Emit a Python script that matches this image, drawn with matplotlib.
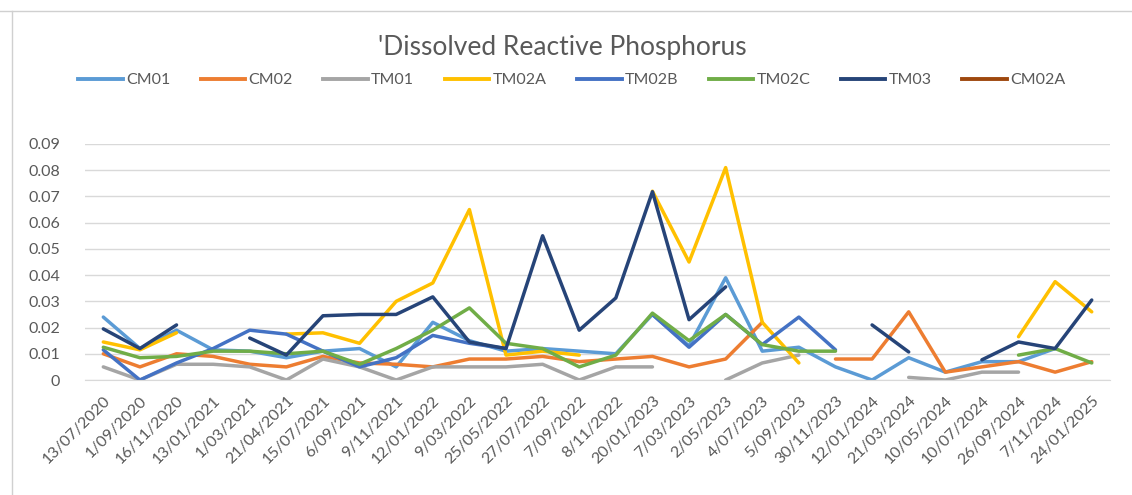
import numpy as np
import matplotlib
matplotlib.use("Agg")
import matplotlib.pyplot as plt
from matplotlib.lines import Line2D

plt.rcParams['font.family'] = ['Lato', 'DejaVu Sans']

nan = np.nan
dates = ["13/07/2020", "1/09/2020", "16/11/2020", "13/01/2021", "1/03/2021", "21/04/2021",
         "15/07/2021", "6/09/2021", "9/11/2021", "12/01/2022", "9/03/2022", "25/05/2022",
         "27/07/2022", "7/09/2022", "8/11/2022", "20/01/2023", "7/03/2023", "2/05/2023",
         "4/07/2023", "5/09/2023", "30/11/2023", "12/01/2024", "21/03/2024", "10/05/2024",
         "10/07/2024", "26/09/2024", "7/11/2024", "24/01/2025"]

cm01 = [0.024, 0.012, 0.019, 0.0115, 0.011, 0.0085, 0.011, 0.012, 0.005, 0.022, 0.015, 0.011,
        0.012, 0.011, 0.010, 0.025, 0.013, 0.039, 0.011, 0.0125, 0.005, 0.0, 0.0085, 0.003,
        0.007, 0.007, 0.012, nan]
cm02 = [0.010, 0.005, 0.010, 0.009, 0.006, 0.005, 0.009, 0.0065, 0.006, 0.005, 0.008, 0.008,
        0.009, 0.007, 0.008, 0.009, 0.005, 0.008, 0.022, nan, 0.008, 0.008, 0.026, 0.003,
        0.005, 0.007, 0.003, 0.007]
tm01 = [0.005, 0.0, 0.006, 0.006, 0.005, 0.0, 0.008, 0.005, 0.0, 0.005, 0.005, 0.005,
        0.006, 0.0, 0.005, 0.005, nan, 0.0, 0.0065, 0.0095, nan, nan, 0.001, 0.0,
        0.003, 0.003, nan, nan]
tm02a = [0.0145, 0.0115, 0.018, nan, nan, 0.0175, 0.018, 0.014, 0.030, 0.037, 0.065, 0.0095,
         0.011, 0.0095, nan, 0.072, 0.045, 0.081, 0.022, 0.0065, nan, nan, nan, nan,
         nan, 0.0165, 0.0375, 0.026]
tm02b = [0.0115, 0.0, 0.0065, 0.012, 0.019, 0.0175, 0.011, 0.005, 0.0085, 0.017, 0.014, 0.012,
         nan, nan, nan, 0.025, 0.0125, 0.025, 0.0135, 0.024, 0.0115, nan, nan, nan,
         nan, nan, nan, nan]
tm02c = [0.0125, 0.0085, 0.009, 0.011, 0.011, 0.010, 0.011, 0.006, 0.012, 0.019, 0.0275, 0.014,
         0.012, 0.005, 0.0095, 0.0255, 0.015, 0.025, 0.0135, 0.011, 0.011, nan, nan, nan,
         nan, 0.0095, 0.012, 0.0065]
tm03 = [0.0195, 0.012, 0.021, nan, 0.016, 0.0095, 0.0245, 0.025, 0.025, 0.0317, 0.0145, 0.012,
        0.055, 0.019, 0.0313, 0.0718, 0.023, 0.0355, nan, nan, nan, 0.021, 0.0107, nan,
        0.0077, 0.0145, 0.012, 0.0305]
cm02a = [nan] * len(dates)

names = ["CM01", "CM02", "TM01", "TM02A", "TM02B", "TM02C", "TM03", "CM02A"]
series = [cm01, cm02, tm01, tm02a, tm02b, tm02c, tm03, cm02a]
colors = ["#5B9BD5", "#ED7D31", "#A5A5A5", "#FFC000", "#4472C4", "#70AD47", "#264478", "#9E480E"]

text_col = "#595959"

fig = plt.figure(figsize=(11.32, 4.95), dpi=100)
ax = fig.add_axes([0.0751, 0.2323, 0.9055, 0.4768])

x = np.arange(len(dates))
for name, vals, c in zip(names, series, colors):
    ax.plot(x, vals, color=c, lw=2.5, label=name, solid_joinstyle='round', solid_capstyle='round')

ax.set_xlim(-0.5, len(dates) - 0.5)
ax.set_ylim(0, 0.09)
ax.set_yticks(np.arange(0, 0.091, 0.01))
ax.set_yticklabels(["0"] + [f"{v:.2f}" for v in np.arange(0.01, 0.091, 0.01)])
ax.grid(axis='y', color='#D9D9D9', lw=1)
ax.set_axisbelow(True)
for s in ["top", "right", "left"]:
    ax.spines[s].set_visible(False)
ax.spines["bottom"].set_color('#D9D9D9')
ax.set_xticks(x)
ax.set_xticklabels(dates, rotation=45, ha='right', rotation_mode='anchor')
ax.tick_params(axis='both', length=0, labelsize=11.5, colors=text_col)
ax.tick_params(axis='y', pad=18)
ax.tick_params(axis='x', pad=10)

fig.text(0.497, 0.905, "'Dissolved Reactive Phosphorus", ha='center', va='center',
         fontsize=19, color=text_col)

handles = [Line2D([], [], color=c, lw=2.8) for c in colors]
fig.legend(handles, names, loc='center', bbox_to_anchor=(0.505, 0.838), ncol=8, frameon=False,
           fontsize=11.5, handlelength=2.8, handletextpad=0.2, columnspacing=1.9, labelcolor=text_col)

# faint worksheet border lines
fig.add_artist(Line2D([0, 1], [0.978, 0.978], transform=fig.transFigure, color='#D0D0D0', lw=1))
fig.add_artist(Line2D([0.011, 0.011], [0, 0.978], transform=fig.transFigure, color='#D0D0D0', lw=1))

fig.savefig("out.png", dpi=100)
